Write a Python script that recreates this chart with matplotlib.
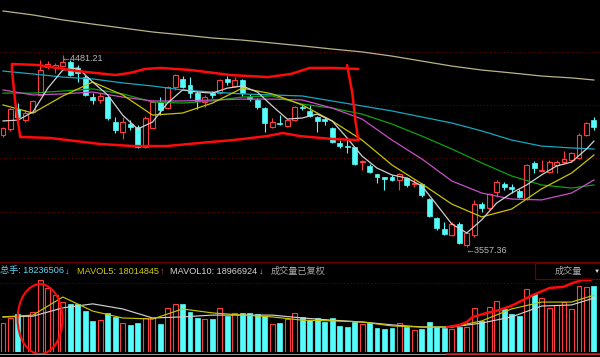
import matplotlib
matplotlib.use("Agg")
import matplotlib.pyplot as plt
from matplotlib.lines import Line2D
from matplotlib.patches import Ellipse, Rectangle

RED = "#ff3b3b"
CYAN = "#54fcfc"
BG = "black"
GRID = "#7a0000"
PEN = "#ff0a0a"      # hand drawn marks

# daily candles (index 0..79)
OPEN = [4096, 4125, 4221, 4168, 4207, 4289, 4424, 4424, 4428, 4448,
        4419, 4375, 4279, 4265, 4279, 4159, 4111, 4149, 4135, 4038,
        4130, 4255, 4226, 4327, 4366, 4337, 4298, 4255, 4298, 4298,
        4366, 4332, 4361, 4279, 4265, 4226, 4135, 4154, 4140, 4168,
        4231, 4212, 4183, 4173, 4130, 4058, 4043, 4038, 3966, 3947,
        3909, 3894, 3894, 3880, 3889, 3861, 3861, 3788, 3697, 3644,
        3615, 3668, 3567, 3615, 3764, 3745, 3822, 3861, 3846, 3827,
        3788, 3962, 3923, 3918, 3952, 3966, 3976, 3986, 4096, 4168]
CLOSE = [4130, 4221, 4183, 4202, 4260, 4409, 4438, 4433, 4448, 4385,
         4395, 4289, 4265, 4284, 4178, 4120, 4159, 4135, 4038, 4178,
         4255, 4217, 4327, 4385, 4327, 4298, 4260, 4279, 4289, 4361,
         4351, 4361, 4298, 4269, 4231, 4154, 4159, 4149, 4168, 4231,
         4226, 4188, 4164, 4164, 4063, 4043, 4038, 3957, 3971, 3918,
         3894, 3885, 3880, 3909, 3856, 3865, 3808, 3707, 3649, 3620,
         3668, 3577, 3625, 3764, 3745, 3812, 3870, 3846, 3837, 3798,
         3952, 3937, 3928, 3966, 3966, 3981, 4010, 4096, 4154, 4135]
HIGH = [4135, 4226, 4250, 4217, 4265, 4457, 4452, 4443, 4481.21, 4457,
        4433, 4385, 4298, 4298, 4284, 4183, 4183, 4168, 4144, 4188,
        4265, 4279, 4332, 4390, 4380, 4375, 4308, 4289, 4308, 4366,
        4380, 4375, 4366, 4294, 4274, 4231, 4178, 4192, 4173, 4236,
        4241, 4241, 4188, 4183, 4135, 4072, 4072, 4038, 3976, 3957,
        3909, 3894, 3904, 3913, 3894, 3885, 3865, 3793, 3702, 3678,
        3678, 3678, 3630, 3784, 3774, 3817, 3880, 3870, 3861, 3837,
        3957, 3971, 3976, 3976, 3976, 4019, 4014, 4106, 4159, 4183]
LOW = [4087, 4116, 4178, 4159, 4202, 4284, 4414, 4395, 4424, 4380,
       4351, 4284, 4245, 4250, 4168, 4106, 4077, 4120, 4034, 4034,
       4125, 4192, 4221, 4313, 4322, 4274, 4221, 4231, 4274, 4294,
       4337, 4327, 4284, 4260, 4221, 4111, 4130, 4144, 4135, 4164,
       4217, 4183, 4111, 4144, 4058, 4034, 4010, 3952, 3928, 3913,
       3865, 3832, 3875, 3832, 3846, 3846, 3798, 3702, 3639, 3615,
       3610, 3572, 3557.36, 3606, 3726, 3736, 3798, 3832, 3817, 3793,
       3784, 3913, 3918, 3913, 3913, 3957, 3966, 3981, 4091, 4120]

# volume, millions of hands
VOLUME = [8.0, 9.4, 10.5, 10.2, 11.1, 19.9, 17.7, 15.7, 13.8, 13.3,
          13.3, 11.3, 8.6, 8.8, 10.8, 9.7, 8.0, 7.5, 8.0, 9.4,
          9.4, 7.7, 12.2, 13.3, 13.3, 11.1, 9.4, 9.1, 9.1, 12.2,
          9.9, 10.8, 10.8, 10.8, 10.5, 9.9, 7.7, 8.0, 9.1, 10.8,
          9.7, 8.8, 9.4, 8.3, 9.4, 7.2, 6.9, 8.3, 7.7, 8.0,
          6.6, 6.4, 6.6, 8.0, 6.9, 6.1, 6.4, 8.3, 6.9, 6.6,
          6.4, 6.9, 6.9, 12.2, 8.6, 12.4, 14.1, 11.9, 10.5, 9.9,
          17.4, 16.0, 14.9, 12.2, 13.0, 13.8, 11.9, 18.2, 18.0, 18.2]

# moving averages
MA5_IDX = [0, 2, 4, 6, 8, 10, 12, 14, 16, 18, 20, 22, 24, 26, 28, 30, 32, 34, 36, 38,
           40, 42, 44, 46, 48, 50, 52, 54, 56, 58, 60, 62, 64, 66, 68, 70, 72, 74, 76, 78, 79]
MA5 = [4164, 4168, 4207, 4322, 4409, 4419, 4351, 4289, 4192, 4125, 4159, 4250, 4313,
       4303, 4298, 4322, 4332, 4303, 4236, 4173, 4178, 4197, 4164, 4082, 3995, 3937,
       3904, 3889, 3851, 3760, 3668, 3625, 3688, 3769, 3817, 3856, 3904, 3947, 3966,
       4029, 4067]
MA_IDX = [0, 4, 8, 12, 16, 20, 24, 28, 32, 36, 40, 44, 48, 52, 56, 60, 64, 68, 72, 76, 79]
MA10 = [4241, 4202, 4284, 4351, 4289, 4192, 4202, 4250, 4322, 4294, 4241,
        4164, 4072, 3952, 3861, 3764, 3702, 3740, 3837, 3913, 4000]
MA20 = [4313, 4289, 4294, 4303, 4279, 4260, 4260, 4265, 4269, 4269, 4265,
        4226, 4173, 4072, 3981, 3875, 3817, 3788, 3784, 3817, 3880]
MA30 = [4298, 4298, 4308, 4318, 4294, 4255, 4250, 4260, 4279, 4284, 4245,
        4226, 4197, 4149, 4091, 4029, 3962, 3899, 3856, 3841, 3856]
MA60 = [4404, 4390, 4375, 4366, 4347, 4332, 4313, 4303, 4294, 4289, 4284,
        4260, 4236, 4212, 4183, 4154, 4116, 4072, 4043, 4034, 4029]
MA250 = [4693, 4674, 4650, 4630, 4611, 4592, 4578, 4563, 4553, 4539, 4525,
         4510, 4496, 4476, 4452, 4428, 4409, 4395, 4380, 4371, 4361]
MAVOL5 = [9.7, 10.2, 15.2, 11.3, 9.4, 9.1, 11.9, 10.8, 10.2, 9.7, 8.8,
          8.6, 8.3, 7.2, 6.9, 6.9, 8.6, 11.9, 13.8, 13.8, 15.7]
MAVOL10 = [9.7, 9.9, 12.2, 13.3, 11.9, 9.4, 9.7, 10.2, 10.2, 10.2, 9.4,
           8.8, 8.3, 7.5, 6.9, 6.9, 8.0, 9.7, 12.7, 13.0, 14.9]

GRID_LEVELS = [4496, 4241, 3986, 3726]

# hand drawn box around the consolidation (bar index, price)
BOX_TOP = [(1.2, 4438), (4.7, 4433), (6.3, 4424), (9.9, 4404), (15.0, 4385), (17.0, 4395),
           (19.0, 4414), (21.1, 4419), (25.1, 4409), (30.4, 4385), (35.4, 4375),
           (38.5, 4390), (41.0, 4419), (44.1, 4419), (47.5, 4414)]
BOX_RIGHT = [(46.0, 4433), (46.7, 4298), (47.1, 4168), (47.5, 4072)]
BOX_BOTTOM = [(47.5, 4072), (44.1, 4077), (39.7, 4091), (37.4, 4106), (35.3, 4091),
              (30.8, 4072), (26.3, 4058), (21.9, 4043), (17.4, 4043), (13.0, 4053),
              (6.3, 4082), (2.3, 4087)]
BOX_LEFT = [(2.3, 4087), (1.6, 4265), (1.2, 4409), (1.2, 4438)]
# hand drawn rising curve over volume
VOL_CURVE = [(59.4, 6.9), (61.1, 7.5), (62.0, 8.3), (62.8, 9.7), (64.7, 10.8), (66.4, 11.6),
             (68.2, 13.0), (70.9, 15.8), (73.1, 17.7), (74.9, 18.0), (76.2, 19.1),
             (77.5, 19.9), (78.5, 19.9)]

W, H = 600, 357
fig = plt.figure(figsize=(6, 3.57), dpi=100, facecolor=BG)
ax = fig.add_axes([0, 95 / H, 1, 262 / H])
vax = fig.add_axes([0, 5 / H, 1, 74 / H])
for a in (ax, vax):
    a.set_facecolor(BG)
    a.set_xlim(-0.40, 79.81)
    a.set_xticks([]); a.set_yticks([])
    for s in a.spines.values():
        s.set_visible(False)
ax.set_ylim(3485.2, 4745.9)
vax.set_ylim(0, 20.45)

for lv in GRID_LEVELS:
    ax.axhline(lv, color=GRID, lw=0.7, ls=(0, (1, 2.5)), zorder=0)
vax.axhline(19.06, color=GRID, lw=0.7, ls=(0, (1, 2.5)), zorder=0)

bw = 0.66
for i in range(len(OPEN)):
    o, c, h, l = OPEN[i], CLOSE[i], HIGH[i], LOW[i]
    up = c > o
    top, bot = max(o, c), min(o, c)
    if up:
        ax.vlines(i, top, h, color=RED, lw=0.8, zorder=2)
        ax.vlines(i, l, bot, color=RED, lw=0.8, zorder=2)
        ax.add_patch(Rectangle((i - bw / 2, bot), bw, max(top - bot, 1), facecolor=BG,
                               edgecolor=RED, lw=0.8, zorder=3))
        vax.add_patch(Rectangle((i - bw / 2, 0), bw, VOLUME[i], facecolor=BG,
                                edgecolor=RED, lw=0.8, zorder=2))
    else:
        ax.vlines(i, l, h, color=CYAN, lw=0.8, zorder=2)
        ax.add_patch(Rectangle((i - bw / 2, bot), bw, max(top - bot, 3), facecolor=CYAN,
                               edgecolor=CYAN, lw=0.5, zorder=3))
        vax.add_patch(Rectangle((i - bw / 2, 0), bw, VOLUME[i], facecolor=CYAN,
                                edgecolor=CYAN, lw=0.5, zorder=2))

ax.plot(MA_IDX, MA250, color="#b8b48a", lw=0.9, zorder=4)
ax.plot(MA_IDX, MA60, color="#1aa6bf", lw=0.9, zorder=4)
ax.plot(MA_IDX, MA30, color="#10a010", lw=0.9, zorder=4)
ax.plot(MA_IDX, MA20, color="#c850c8", lw=0.9, zorder=4)
ax.plot(MA_IDX, MA10, color="#c8c400", lw=0.9, zorder=4)
ax.plot(MA5_IDX, MA5, color="#d0d0d0", lw=0.9, zorder=4)
vax.plot(MA_IDX, MAVOL10, color="#d0d0d0", lw=0.85, zorder=4)
vax.plot(MA_IDX, MAVOL5, color="#c8c400", lw=0.85, zorder=4)

lab_font = ["Liberation Sans", "DejaVu Sans"]
imax = HIGH.index(max(HIGH))
imin = LOW.index(min(LOW))
ax.annotate(f"\u2190{max(HIGH):.2f}", (imax, max(HIGH)), xytext=(-1, -2.4),
            textcoords="offset points", ha="left", va="center", color="#b8b8b8",
            fontsize=6.5, family=lab_font, zorder=6)
ax.annotate(f"\u2190{min(LOW):.2f}", (imin, min(LOW)), xytext=(-1, -2.6),
            textcoords="offset points", ha="left", va="center", color="#b8b8b8",
            fontsize=6.5, family=lab_font, zorder=6)

for pts in (BOX_TOP, BOX_RIGHT, BOX_BOTTOM, BOX_LEFT):
    xs, ys = zip(*pts)
    ax.plot(xs, ys, color=PEN, lw=1.8, solid_capstyle="round", zorder=7, clip_on=False)
xs, ys = zip(*VOL_CURVE)
vax.plot(xs, ys, color=PEN, lw=1.8, zorder=7, clip_on=False)
vax.add_patch(Ellipse((4.95, 9.1), 6.0, 19.3, fill=False, edgecolor=PEN, lw=1.5,
                      zorder=7, clip_on=False))

# panel separator, header and bottom line
fig.add_artist(Line2D([0, 1], [95 / H] * 2, color="#6a0000", lw=0.9))
fig.add_artist(Line2D([0, 1], [3 / H] * 2, color="#9a9a9a", lw=0.7))
fig.add_artist(Line2D([447 / W, 1], [3 / H] * 2, color="#d01010", lw=1.2))
fig.add_artist(Rectangle((535 / W, 78 / H), 66 / W, 16 / H, fill=False,
                         edgecolor="#6a0000", lw=0.9))

hdr = ["Liberation Sans", "Noto Sans CJK SC", "DejaVu Sans"]
ty = 86 / H
items = [(0, "总手: 18236506", "#66d4ee"), (64.5, "\u2193", "#66d4ee"),
         (77, "MAVOL5: 18014845", "#d0cc00"), (159.5, "\u2191", "#ff4040"),
         (170.5, "MAVOL10: 18966924", "#d4d4d4"), (259, "\u2193", "#66d4ee"),
         (271, "成交量已复权", "#a8a8a8")]
for x, s, col in items:
    fig.text(x / W, ty, s, color=col, fontsize=6.6, family=hdr, ha="left", va="center")
fig.text(568 / W, ty, "成交量", color="#a8a8a8", fontsize=6.6, family=hdr,
         ha="center", va="center")
fig.text(597 / W, ty, "\u25bc", color="#d8d8d8", fontsize=4.5, family=hdr,
         ha="center", va="center")

fig.savefig("out.png", dpi=100, facecolor=BG)
